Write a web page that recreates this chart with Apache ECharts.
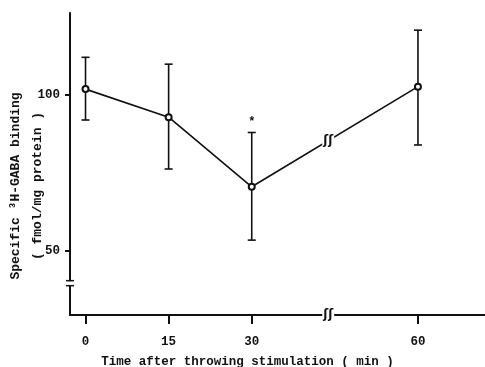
<!DOCTYPE html>
<html>
<head>
<meta charset="utf-8">
<script src="https://cdn.jsdelivr.net/npm/echarts@6/dist/echarts.min.js"></script>
<style>html,body{margin:0;padding:0;background:#fff}#c{width:485px;height:367px}</style>
</head>
<body>
<div id="c"></div>
<script>
// ---- data ----
const timePoints = [0, 15, 30, 60];
const meanValues = [101.9, 92.9, 70.6, 102.7];
const upperValues = [112.1, 109.9, 88.0, 120.8];
const lowerValues = [92.0, 76.3, 53.5, 84.0];
const significance = ['', '', '*', ''];
const xTickValues = [0, 15, 30, 60];
const yTickValues = [50, 100];
const xBreakValue = 43.8;
const yBreakValue = 39.7;
const xTitle = 'Time after throwing stimulation ( min )';
const yTitle = 'Specific \u00b3H-GABA binding\n( fmol/mg protein )';

const FONT = "'Liberation Mono', 'DejaVu Sans Mono', monospace";
const INK = '#111';

const chart = echarts.init(document.getElementById('c'), null, {renderer: 'canvas'});

const lineData = timePoints.map((t, i) => [t, meanValues[i]]);
const errData = timePoints.map((t, i) => [t, lowerValues[i], upperValues[i], significance[i]]);

chart.setOption({
  animation: false,
  backgroundColor: '#fff',
  grid: {left: 70, right: 0, top: 13, bottom: 52, containLabel: false, outerBoundsMode: 'none'},
  xAxis: {
    type: 'value', min: -2.8, max: 72.1,
    splitLine: {show: false},
    axisLine: {lineStyle: {color: INK, width: 2}},
    axisTick: {show: true, customValues: xTickValues, length: 9, lineStyle: {color: INK, width: 2}},
    axisLabel: {customValues: xTickValues, margin: 20, fontFamily: FONT, fontWeight: 'bold', fontSize: 12.5, color: INK},
    name: xTitle, nameLocation: 'middle', nameGap: 40,
    nameTextStyle: {fontFamily: FONT, fontWeight: 'bold', fontSize: 12.5, color: INK, padding: [0, 60, 0, 0]}
  },
  yAxis: {
    type: 'value', min: 29.5, max: 126.3,
    splitLine: {show: false},
    axisLine: {onZero: false, lineStyle: {color: INK, width: 2}},
    axisTick: {show: true, customValues: yTickValues, length: 5, lineStyle: {color: INK, width: 2}},
    axisLabel: {customValues: yTickValues, margin: 10, fontFamily: FONT, fontWeight: 'bold', fontSize: 12.5, color: INK},
    name: yTitle, nameLocation: 'middle', nameGap: 21, nameRotate: 90, nameMoveOverlap: false,
    nameTextStyle: {fontFamily: FONT, fontWeight: 'bold', fontSize: 13, lineHeight: 22, color: INK, padding: [0, 44, 0, 0]}
  },
  series: [
    {
      type: 'custom',
      data: errData,
      z: 3,
      renderItem: function (params, api) {
        const x = api.value(0);
        const lo = api.coord([x, api.value(1)]);
        const hi = api.coord([x, api.value(2)]);
        const cap = 4;
        const st = {stroke: INK, lineWidth: 1.6};
        const children = [
          {type: 'line', shape: {x1: lo[0], y1: lo[1], x2: hi[0], y2: hi[1]}, style: st},
          {type: 'line', shape: {x1: lo[0] - cap, y1: lo[1], x2: lo[0] + cap, y2: lo[1]}, style: st},
          {type: 'line', shape: {x1: hi[0] - cap, y1: hi[1], x2: hi[0] + cap, y2: hi[1]}, style: st}
        ];
        const s = api.value(3);
        if (s) {
          children.push({type: 'text', x: hi[0], y: hi[1] - 5,
            style: {text: s, fontFamily: FONT, fontWeight: 'bold', fontSize: 12, fill: INK, align: 'center', verticalAlign: 'bottom'}});
        }
        return {type: 'group', children: children};
      }
    },
    {
      type: 'line',
      data: lineData,
      z: 4,
      symbol: 'emptyCircle',
      symbolSize: 6,
      lineStyle: {color: INK, width: 1.6},
      itemStyle: {color: INK, borderColor: INK, borderWidth: 1.4}
    }
  ]
});

// break marks (decorations) placed through the axes' scales
function squiggle(p) {
  return {type: 'text', x: p[0], y: p[1], z: 10,
    style: {text: '\u0283\u0283', fontFamily: "'DejaVu Sans'", fontSize: 12, fontWeight: 'bold', fill: INK,
      align: 'center', verticalAlign: 'middle', backgroundColor: '#fff', padding: [0, 1]}};
}
const i1 = 2, i2 = 3;
const frac = (xBreakValue - timePoints[i1]) / (timePoints[i2] - timePoints[i1]);
const lineBreakY = meanValues[i1] + frac * (meanValues[i2] - meanValues[i1]);
const pLine = chart.convertToPixel({gridIndex: 0}, [xBreakValue, lineBreakY]);
const pX = chart.convertToPixel({gridIndex: 0}, [xBreakValue, 29.5]);
const pY = chart.convertToPixel({gridIndex: 0}, [-2.8, yBreakValue]);
chart.setOption({
  graphic: [
    squiggle(pLine),
    squiggle(pX),
    {type: 'rect', z: 10, shape: {x: pY[0] - 3, y: pY[1] - 2, width: 6, height: 4}, style: {fill: '#fff'}},
    {type: 'line', z: 11, shape: {x1: pY[0] - 4, y1: pY[1] - 2.5, x2: pY[0] + 4, y2: pY[1] - 2.5}, style: {stroke: INK, lineWidth: 1.5}},
    {type: 'line', z: 11, shape: {x1: pY[0] - 4, y1: pY[1] + 2.5, x2: pY[0] + 4, y2: pY[1] + 2.5}, style: {stroke: INK, lineWidth: 1.5}}
  ]
});
</script>
</body>
</html>
